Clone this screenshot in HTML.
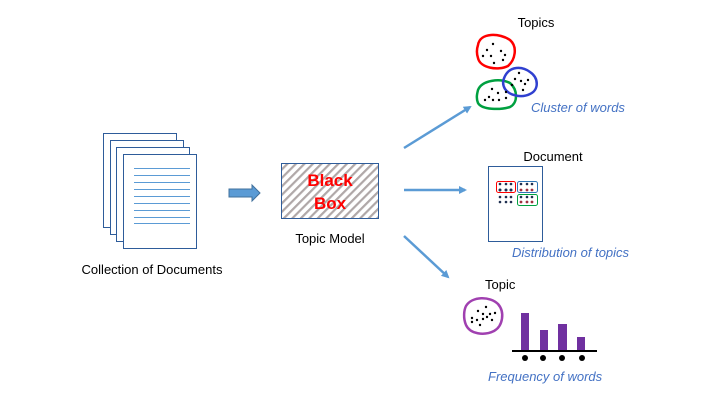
<!DOCTYPE html>
<html><head><meta charset="utf-8"><style>
body{margin:0;background:#fff;width:727px;height:403px;overflow:hidden;font-family:"Liberation Sans",sans-serif}
</style></head><body>
<svg width="727" height="403" xmlns="http://www.w3.org/2000/svg" font-family="Liberation Sans, sans-serif">
<defs>
<pattern id="h" width="6" height="6" patternUnits="userSpaceOnUse" patternTransform="rotate(-45)">
<rect width="6" height="6" fill="#fff"/><rect width="6" height="2.2" fill="#b0a8a8"/></pattern>
<marker id="a" markerWidth="8" markerHeight="8" refX="6" refY="4" orient="auto" markerUnits="userSpaceOnUse"><path d="M0,0 L8,4 L0,8 z" fill="#5b9bd5"/></marker>
</defs>
<g fill="#fff" stroke="#2e5c9a" stroke-width="1">
<rect x="103.5" y="133.5" width="73" height="94"/>
<rect x="110.5" y="140.5" width="73" height="94"/>
<rect x="116.5" y="147.5" width="73" height="94"/>
<rect x="123.5" y="154.5" width="73" height="94"/>
</g>
<g stroke="#5b9bd5" stroke-width="1">
<line x1="134" y1="168.5" x2="190" y2="168.5"/><line x1="134" y1="175.5" x2="190" y2="175.5"/>
<line x1="134" y1="182.5" x2="190" y2="182.5"/><line x1="134" y1="189.5" x2="190" y2="189.5"/>
<line x1="134" y1="196.5" x2="190" y2="196.5"/><line x1="134" y1="203.5" x2="190" y2="203.5"/>
<line x1="134" y1="210.5" x2="190" y2="210.5"/><line x1="134" y1="217.5" x2="190" y2="217.5"/>
<line x1="134" y1="223.5" x2="190" y2="223.5"/>
</g>
<text x="152" y="274" font-size="13" text-anchor="middle">Collection of Documents</text>
<path d="M229,189 L252,189 L252,185 L260,193 L252,201 L252,197 L229,197 z" fill="#5b9bd5" stroke="#41719c"/>
<rect x="281.5" y="163.5" width="97" height="55" fill="url(#h)" stroke="#2e5c9a"/>
<text x="330" y="186" font-size="17" font-weight="bold" fill="#f00" text-anchor="middle">Black</text>
<text x="330" y="209" font-size="17" font-weight="bold" fill="#f00" text-anchor="middle">Box</text>
<text x="330" y="243" font-size="13" text-anchor="middle">Topic Model</text>
<g stroke="#5b9bd5" stroke-width="2.5" marker-end="url(#a)">
<line x1="404" y1="148" x2="470" y2="107"/>
<line x1="404" y1="190" x2="465" y2="190"/>
<line x1="404" y1="236" x2="448" y2="277"/>
</g>
<text x="536" y="27" font-size="13" text-anchor="middle">Topics</text>
<g fill="none" stroke-width="2.5">
<path d="M478,45 C480,32 500,33 510,40 C518,47 515,60 508,66 C498,71 480,68 478,58 C476,52 477,48 478,45z" stroke="#f00"/>
<path d="M478,90 C482,80 500,78 510,83 C518,90 518,103 510,107 C500,110 482,110 478,103 C476,98 477,94 478,90z" stroke="#00a040"/>
<path d="M505,76 C510,66 522,66 530,72 C539,78 539,90 530,94 C522,98 510,96 505,89 C502,84 503,80 505,76z" stroke="#3040d0"/>
<path d="M466,306 C472,296 490,296 498,304 C505,312 503,326 494,331 C484,336 470,334 466,325 C463,318 464,310 466,306z" stroke="#a040b0"/>
</g>
<g fill="#000">
<circle cx="493" cy="44" r="1.2"/><circle cx="487" cy="50" r="1.2"/><circle cx="501" cy="51" r="1.2"/><circle cx="483" cy="56" r="1.2"/><circle cx="491" cy="56" r="1.2"/><circle cx="505" cy="55" r="1.2"/><circle cx="503" cy="60" r="1.2"/><circle cx="494" cy="63" r="1.2"/>
<circle cx="519" cy="73" r="1.2"/><circle cx="515" cy="79" r="1.2"/><circle cx="521" cy="81" r="1.2"/><circle cx="528" cy="80" r="1.2"/><circle cx="525" cy="84" r="1.2"/><circle cx="512" cy="85" r="1.2"/><circle cx="523" cy="90" r="1.2"/>
<circle cx="492" cy="89" r="1.2"/><circle cx="498" cy="93" r="1.2"/><circle cx="489" cy="97" r="1.2"/><circle cx="485" cy="100" r="1.2"/><circle cx="493" cy="100" r="1.2"/><circle cx="499" cy="100" r="1.2"/><circle cx="506" cy="98" r="1.2"/><circle cx="506" cy="92" r="1.2"/>
<circle cx="478" cy="311" r="1.2"/><circle cx="486" cy="307" r="1.2"/><circle cx="483" cy="314" r="1.2"/><circle cx="490" cy="314" r="1.2"/><circle cx="495" cy="313" r="1.2"/><circle cx="472" cy="318" r="1.2"/><circle cx="477" cy="320" r="1.2"/><circle cx="483" cy="319" r="1.2"/><circle cx="487" cy="317" r="1.2"/><circle cx="480" cy="325" r="1.2"/><circle cx="492" cy="320" r="1.2"/><circle cx="472" cy="322" r="1.2"/>
</g>
<text x="531" y="112" font-size="13" font-style="italic" fill="#4472c4">Cluster of words</text>
<text x="553" y="161" font-size="13" text-anchor="middle">Document</text>
<rect x="488.5" y="166.5" width="54" height="75" fill="#fff" stroke="#2e5c9a"/>
<rect x="496.5" y="181.5" width="19" height="11" rx="2" fill="none" stroke="#f00"/>
<rect x="517.5" y="181.5" width="20" height="11" rx="2" fill="none" stroke="#2e75b6"/>
<rect x="517.5" y="194.5" width="20" height="11" rx="2" fill="none" stroke="#00a040"/>
<g fill="#1f2f50">
<circle cx="500" cy="184" r="1.3"/><circle cx="506" cy="184" r="1.3"/><circle cx="511" cy="184" r="1.3"/>
<circle cx="500" cy="190" r="1.5"/><circle cx="506" cy="190" r="1.5"/><circle cx="511" cy="190" r="1.5"/>
<circle cx="521" cy="184" r="1.3"/><circle cx="527" cy="184" r="1.3"/><circle cx="532" cy="184" r="1.3"/>
<circle cx="500" cy="197" r="1.3"/><circle cx="506" cy="197" r="1.3"/><circle cx="511" cy="197" r="1.3"/>
<circle cx="500" cy="202" r="1.3"/><circle cx="506" cy="202" r="1.3"/><circle cx="511" cy="202" r="1.3"/>
<circle cx="521" cy="197" r="1.3"/><circle cx="527" cy="197" r="1.3"/><circle cx="532" cy="197" r="1.3"/>
</g>
<g fill="#a03040"><circle cx="521" cy="190" r="1.4"/><circle cx="527" cy="190" r="1.4"/><circle cx="532" cy="190" r="1.4"/>
<circle cx="521" cy="202" r="1.4"/><circle cx="527" cy="202" r="1.4"/><circle cx="532" cy="202" r="1.4"/></g>
<text x="512" y="257" font-size="13" font-style="italic" fill="#4472c4">Distribution of topics</text>
<text x="485" y="289" font-size="13">Topic</text>
<g fill="#7030a0">
<rect x="521" y="313" width="8" height="37"/><rect x="540" y="330" width="8" height="20"/>
<rect x="558" y="324" width="9" height="26"/><rect x="577" y="337" width="8" height="13"/>
</g>
<line x1="512" y1="351" x2="597" y2="351" stroke="#000" stroke-width="2"/>
<g fill="#000"><circle cx="525" cy="358" r="3"/><circle cx="543" cy="358" r="3"/><circle cx="562" cy="358" r="3"/><circle cx="582" cy="358" r="3"/></g>
<text x="488" y="381" font-size="13" font-style="italic" fill="#4472c4">Frequency of words</text>
</svg>
</body></html>
